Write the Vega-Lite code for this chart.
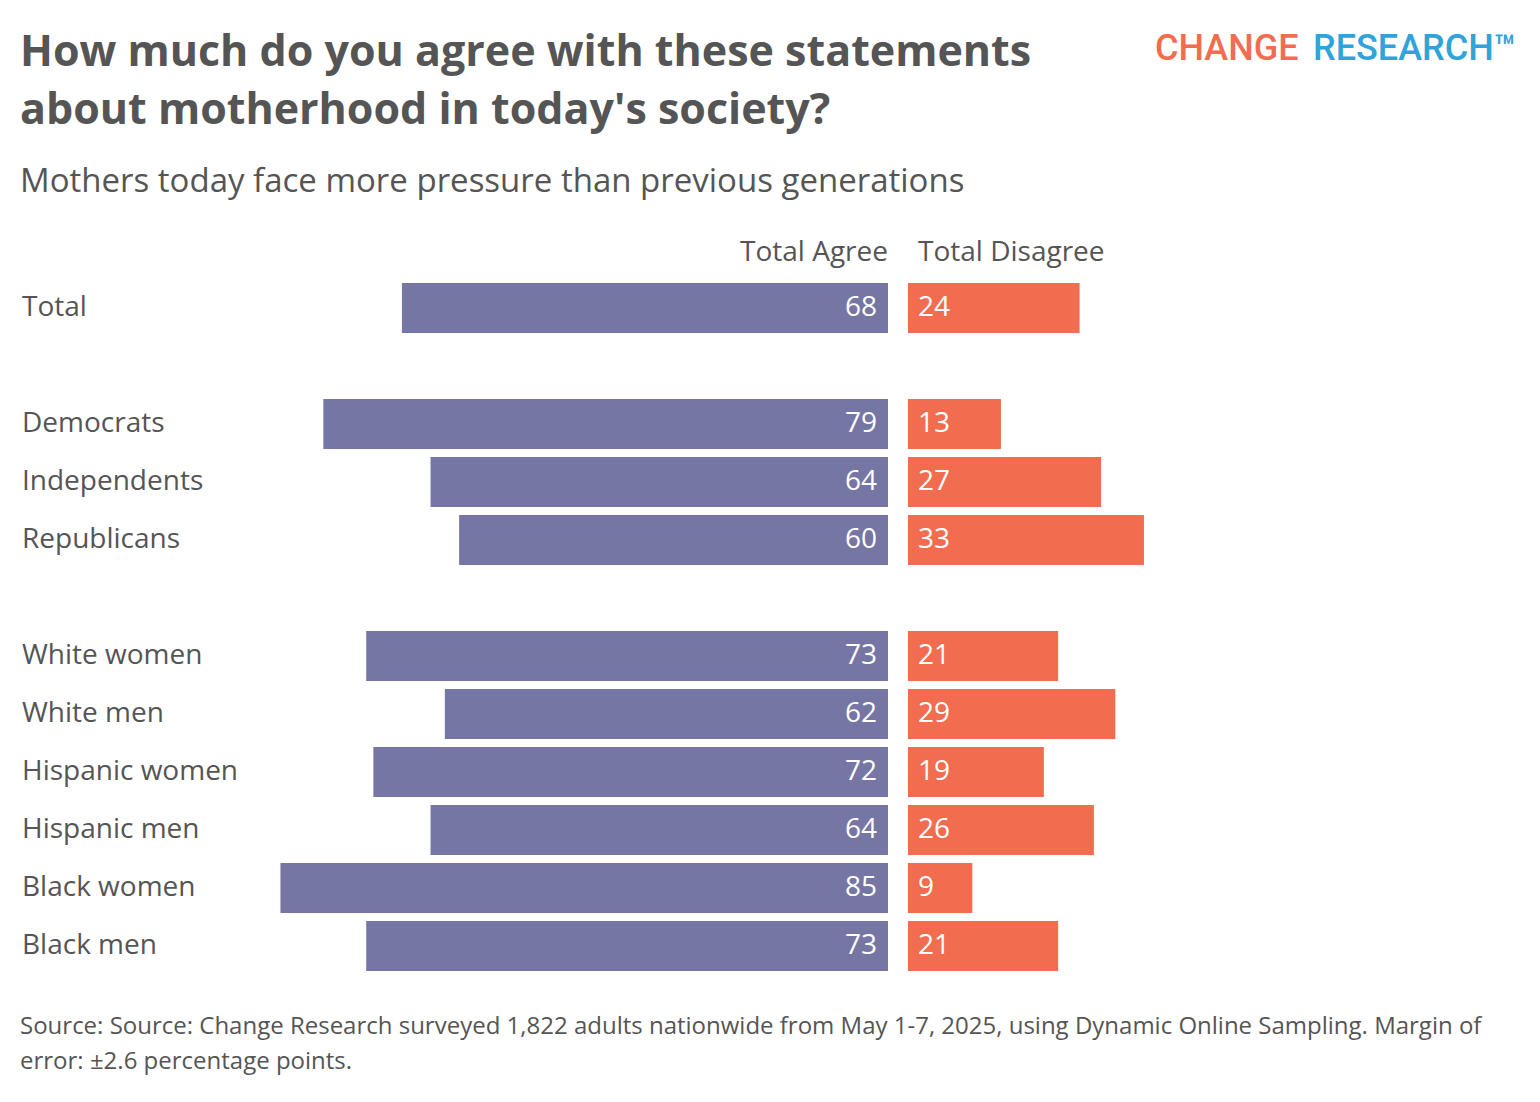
{
  "$schema": "https://vega.github.io/schema/vega-lite/v6.json",
  "background": "white",
  "padding": {"left": 20, "top": 30, "right": 10, "bottom": 10},
  "spacing": 29,
  "config": {
    "font": "Open Sans",
    "view": {"stroke": null},
    "concat": {"spacing": 0}
  },
  "datasets": {
    "rows": [
      {"group": "Total", "agree": 68, "disagree": 24},
      {"group": "Democrats", "agree": 79, "disagree": 13},
      {"group": "Independents", "agree": 64, "disagree": 27},
      {"group": "Republicans", "agree": 60, "disagree": 33},
      {"group": "White women", "agree": 73, "disagree": 21},
      {"group": "White men", "agree": 62, "disagree": 29},
      {"group": "Hispanic women", "agree": 72, "disagree": 19},
      {"group": "Hispanic men", "agree": 64, "disagree": 26},
      {"group": "Black women", "agree": 85, "disagree": 9},
      {"group": "Black men", "agree": 73, "disagree": 21}
    ],
    "blank": [{}]
  },
  "title": {
    "text": ["Source: Source: Change Research surveyed 1,822 adults nationwide from May 1-7, 2025, using Dynamic Online Sampling. Margin of", "error: ±2.6 percentage points."],
    "orient": "bottom",
    "anchor": "start",
    "frame": "group",
    "font": "Open Sans",
    "fontSize": 24,
    "fontWeight": "normal",
    "color": "#555555",
    "lineHeight": 35,
    "offset": 40
  },
  "vconcat": [
    {
      "spacing": 0,
      "hconcat": [
        {
          "width": 1135,
          "height": 1,
          "data": {"name": "blank"},
          "mark": {"type": "text"},
          "encoding": {"text": {"value": ""}},
          "title": {
            "text": ["How much do you agree with these statements", "about motherhood in today's society?"],
            "subtitle": "Mothers today face more pressure than previous generations",
            "anchor": "start",
            "font": "Open Sans",
            "fontSize": 43,
            "fontWeight": "bold",
            "color": "#555555",
            "lineHeight": 58,
            "subtitleFontSize": 33,
            "subtitleColor": "#555555",
            "subtitleFont": "Open Sans",
            "subtitleFontWeight": "normal",
            "subtitlePadding": 33,
            "offset": 0
          }
        },
        {
          "width": 158,
          "height": 1,
          "data": {"name": "blank"},
          "mark": {"type": "text"},
          "encoding": {"text": {"value": ""}},
          "title": {
            "text": "CHANGE",
            "anchor": "start",
            "font": "Roboto",
            "fontSize": 36,
            "fontWeight": 500,
            "color": "#F26D50",
            "baseline": "alphabetic",
            "offset": 103
          }
        },
        {
          "width": 200,
          "height": 1,
          "data": {"name": "blank"},
          "mark": {"type": "text"},
          "encoding": {"text": {"value": ""}},
          "title": {
            "text": "RESEARCH™",
            "anchor": "start",
            "font": "Roboto",
            "fontSize": 36,
            "fontWeight": 500,
            "color": "#2FA3DA",
            "baseline": "alphabetic",
            "offset": 103
          }
        }
      ]
    },
    {
      "spacing": 20,
      "hconcat": [
        {
          "width": 219,
          "height": 696,
          "data": {"name": "rows"},
          "mark": {"type": "text", "align": "left", "baseline": "middle", "fontSize": 28, "color": "#555555", "dx": 2},
          "encoding": {
            "y": {"field": "group", "type": "nominal", "axis": null,
                  "scale": {"domain": ["Total", " ", "Democrats", "Independents", "Republicans", "  ", "White women", "White men", "Hispanic women", "Hispanic men", "Black women", "Black men"], "paddingInner": 0.138, "paddingOuter": 0.069}},
            "x": {"datum": 0, "type": "quantitative", "scale": {"domain": [0, 1]}, "axis": null},
            "text": {"field": "group"}
          }
        },
        {
          "width": 629,
          "height": 696,
          "data": {"name": "rows"},
          "title": {"text": "Total Agree", "anchor": "end", "fontSize": 28, "fontWeight": "normal", "color": "#555555", "baseline": "alphabetic", "offset": -10},
          "encoding": {
            "y": {"field": "group", "type": "nominal", "axis": null,
                  "scale": {"domain": ["Total", " ", "Democrats", "Independents", "Republicans", "  ", "White women", "White men", "Hispanic women", "Hispanic men", "Black women", "Black men"], "paddingInner": 0.138, "paddingOuter": 0.069}}
          },
          "layer": [
            {
              "mark": {"type": "bar", "color": "#7676A5"},
              "encoding": {
                "x": {"field": "agree", "type": "quantitative", "scale": {"domain": [0, 88], "nice": false, "reverse": true}, "axis": null}
              }
            },
            {
              "mark": {"type": "text", "align": "right", "baseline": "middle", "fontSize": 28, "color": "white", "dx": -11},
              "encoding": {
                "x": {"datum": 0, "type": "quantitative"},
                "text": {"field": "agree", "type": "quantitative"}
              }
            }
          ]
        },
        {
          "width": 286,
          "height": 696,
          "data": {"name": "rows"},
          "title": {"text": "Total Disagree", "anchor": "start", "fontSize": 28, "fontWeight": "normal", "color": "#555555", "baseline": "alphabetic", "offset": -10, "dx": 10},
          "encoding": {
            "y": {"field": "group", "type": "nominal", "axis": null,
                  "scale": {"domain": ["Total", " ", "Democrats", "Independents", "Republicans", "  ", "White women", "White men", "Hispanic women", "Hispanic men", "Black women", "Black men"], "paddingInner": 0.138, "paddingOuter": 0.069}}
          },
          "layer": [
            {
              "mark": {"type": "bar", "color": "#F26D50"},
              "encoding": {
                "x": {"field": "disagree", "type": "quantitative", "scale": {"domain": [0, 40], "nice": false}, "axis": null}
              }
            },
            {
              "mark": {"type": "text", "align": "left", "baseline": "middle", "fontSize": 28, "color": "white", "dx": 10},
              "encoding": {
                "x": {"datum": 0, "type": "quantitative"},
                "text": {"field": "disagree", "type": "quantitative"}
              }
            }
          ]
        }
      ]
    }
  ]
}
